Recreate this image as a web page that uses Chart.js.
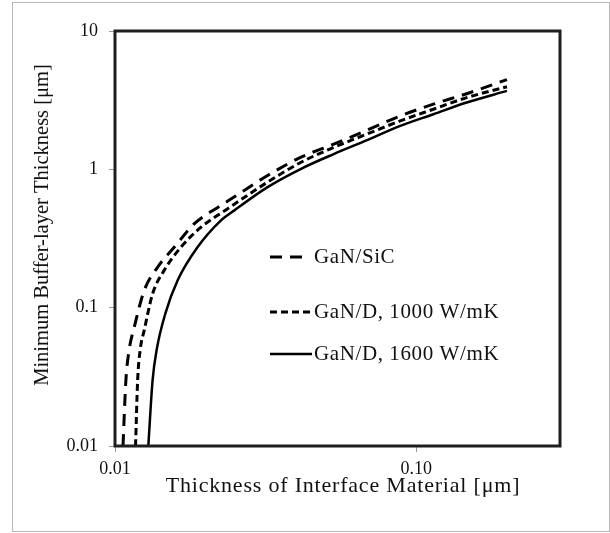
<!DOCTYPE html>
<html>
<head>
<meta charset="utf-8">
<script src="https://cdn.jsdelivr.net/npm/chart.js@4.4.0/dist/chart.umd.min.js"></script>
<style>
  html, body { margin: 0; padding: 0; background: #fff; }
  canvas { display: block; }
</style>
</head>
<body>
<canvas id="chart" width="610" height="533"></canvas>
<script>
// values (log-log)
const xSiC  = [0.01063, 0.01087, 0.01115, 0.01159, 0.0125, 0.01385, 0.01572, 0.0183, 0.02244, 0.02483, 0.032, 0.0413, 0.0532, 0.0687, 0.0885, 0.114, 0.147, 0.2];
const ySiC  = [0.01, 0.030, 0.05, 0.0725, 0.133, 0.196, 0.273, 0.403, 0.547, 0.63, 0.899, 1.22, 1.52, 1.92, 2.43, 2.96, 3.52, 4.45];

const x1000 = [0.0117, 0.01189, 0.01213, 0.0125, 0.01333, 0.01456, 0.01654, 0.01927, 0.0236, 0.032, 0.0413, 0.0532, 0.0687, 0.0885, 0.114, 0.147, 0.2];
const y1000 = [0.01, 0.030, 0.05, 0.0686, 0.126, 0.186, 0.273, 0.381, 0.517, 0.805, 1.12, 1.44, 1.80, 2.24, 2.72, 3.30, 3.95];

const x1600 = [0.0129, 0.01333, 0.01376, 0.0147, 0.01613, 0.01878, 0.02244, 0.02483, 0.032, 0.0413, 0.0532, 0.0687, 0.0885, 0.114, 0.147, 0.2];
const y1600 = [0.01, 0.030, 0.05, 0.091, 0.157, 0.273, 0.426, 0.503, 0.741, 1.005, 1.289, 1.626, 2.06, 2.50, 3.04, 3.69];

const seriesNames = ['GaN/SiC', 'GaN/D, 1000 W/mK', 'GaN/D, 1600 W/mK'];

const xTickValues = [0.01, 0.1];
const xTickLabels = ['0.01', '0.10'];
const yTickValues = [0.01, 0.1, 1, 10];
const yTickLabels = ['0.01', '0.1', '1', '10'];

const xTitle = 'Thickness of Interface Material [\u03bcm]';
const yTitle = 'Minimum Buffer-layer Thickness [\u03bcm]';

const serif = "'Liberation Serif', 'Times New Roman', serif";

const toPoints = (xs, ys) => xs.map((x, i) => ({ x: x, y: ys[i] }));

// white page, gray outer frame, black plot frame, titles, legend
const decor = {
  id: 'decor',
  beforeDraw(chart) {
    const ctx = chart.ctx;
    ctx.save();
    ctx.fillStyle = '#fff';
    ctx.fillRect(0, 0, chart.width, chart.height);
    ctx.strokeStyle = '#b8b8b8';
    ctx.lineWidth = 1;
    ctx.strokeRect(12.5, 2.5, 597, 529);
    ctx.restore();
  },
  afterDatasetsDraw(chart) {
    const ctx = chart.ctx;
    const a = chart.chartArea;
    ctx.save();
    ctx.strokeStyle = '#1e1e1e';
    ctx.lineWidth = 3;
    ctx.strokeRect(a.left, a.top, a.right - a.left, a.bottom - a.top);

    ctx.fillStyle = '#111';
    ctx.font = '22px ' + serif;
    ctx.letterSpacing = '0.8px';
    ctx.textAlign = 'center';
    ctx.textBaseline = 'middle';
    ctx.fillText(xTitle, 343, 486);

    ctx.font = '20.5px ' + serif;
    ctx.letterSpacing = '0px';
    ctx.translate(43, 225);
    ctx.rotate(-Math.PI / 2);
    ctx.fillText(yTitle, 0, 0);
    ctx.restore();

    // legend inside the plot
    const rows = [a.top + 226, a.top + 281, a.top + 323];
    ctx.save();
    ctx.font = '21px ' + serif;
    ctx.letterSpacing = '0.6px';
    ctx.textAlign = 'left';
    ctx.textBaseline = 'middle';
    chart.data.datasets.forEach((ds, i) => {
      const y = rows[i];
      const x0 = a.left + 155;
      ctx.strokeStyle = ds.borderColor;
      ctx.lineWidth = ds.borderWidth;
      ctx.setLineDash(ds.borderDash || []);
      ctx.beginPath();
      ctx.moveTo(x0, y);
      ctx.lineTo(x0 + (i === 0 ? 32 : 42), y);
      ctx.stroke();
      ctx.setLineDash([]);
      ctx.fillStyle = '#111';
      ctx.fillText(ds.label, x0 + 44, y);
    });
    ctx.letterSpacing = '0px';
    ctx.restore();
  }
};

new Chart(document.getElementById('chart'), {
  type: 'line',
  data: {
    datasets: [
      {
        label: seriesNames[0],
        data: toPoints(xSiC, ySiC),
        borderColor: '#000',
        borderWidth: 3,
        borderDash: [12, 8],
        pointRadius: 0,
        fill: false,
        cubicInterpolationMode: 'monotone'
      },
      {
        label: seriesNames[1],
        data: toPoints(x1000, y1000),
        borderColor: '#000',
        borderWidth: 3,
        borderDash: [7, 4],
        pointRadius: 0,
        fill: false,
        cubicInterpolationMode: 'monotone'
      },
      {
        label: seriesNames[2],
        data: toPoints(x1600, y1600),
        borderColor: '#000',
        borderWidth: 2.5,
        pointRadius: 0,
        fill: false,
        cubicInterpolationMode: 'monotone'
      }
    ]
  },
  options: {
    responsive: false,
    animation: false,
    layout: { padding: { top: 31, right: 50, left: 0, bottom: 0 } },
    plugins: {
      legend: { display: false },
      title: { display: false },
      tooltip: { enabled: false }
    },
    scales: {
      x: {
        type: 'logarithmic',
        min: 0.01,
        max: 0.3,
        afterFit: (s) => { s.height = 87; },
        afterBuildTicks: (s) => { s.ticks = xTickValues.map(v => ({ value: v })); },
        ticks: {
          autoSkip: false,
          maxRotation: 0,
          padding: 6,
          color: '#111',
          font: { family: serif, size: 18 },
          callback: (v, i) => xTickLabels[i]
        },
        grid: { drawOnChartArea: false, drawTicks: true, tickLength: 6, color: '#999' },
        border: { display: false }
      },
      y: {
        type: 'logarithmic',
        min: 0.01,
        max: 10,
        afterFit: (s) => { s.width = 115; },
        afterBuildTicks: (s) => { s.ticks = yTickValues.map(v => ({ value: v })); },
        ticks: {
          autoSkip: false,
          padding: 11,
          color: '#111',
          font: { family: serif, size: 18 },
          callback: (v, i) => yTickLabels[i]
        },
        grid: { drawOnChartArea: false, drawTicks: true, tickLength: 6, color: '#999' },
        border: { display: false }
      }
    }
  },
  plugins: [decor]
});
</script>
</body>
</html>
